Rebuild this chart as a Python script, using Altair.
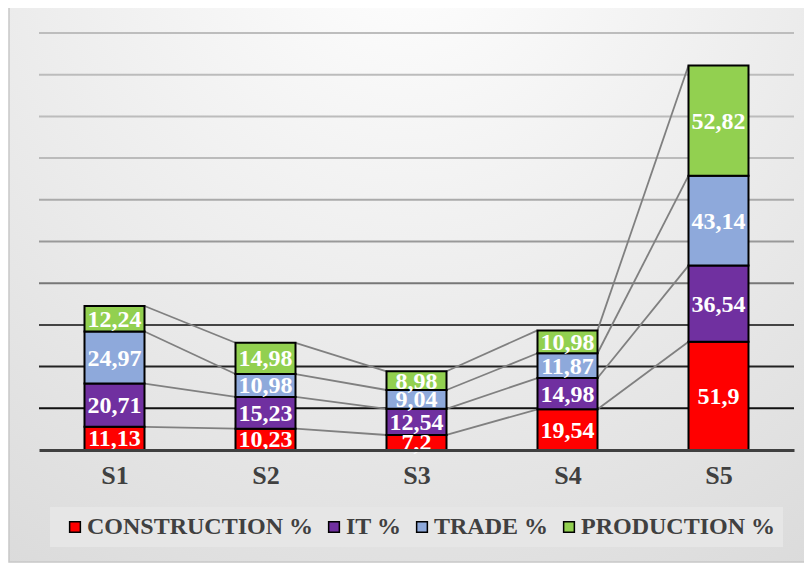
import json
import altair as alt
import pandas as pd

categories = ["S1", "S2", "S3", "S4", "S5"]
series = ["CONSTRUCTION %", "IT %", "TRADE %", "PRODUCTION %"]
construction = [11.13, 10.23, 7.2, 19.54, 51.9]
it = [20.71, 15.23, 12.54, 14.98, 36.54]
trade = [24.97, 10.98, 9.04, 11.87, 43.14]
production = [12.24, 14.98, 8.98, 10.98, 52.82]
colors = ["#FF0000", "#7030A0", "#8EA9DB", "#92D050"]
grid_ticks = list(range(20, 201, 20))

values = [construction, it, trade, production]
rows = []
for i, c in enumerate(categories):
    cum = 0.0
    for k, s in enumerate(series):
        v = values[k][i]
        rows.append(dict(idx=i, cat=c, series=s, k=k, value=v, y0=cum, y1=cum + v,
                         mid=cum + v / 2, label=str(v).replace(".", ",")))
        cum += v
df = pd.DataFrame(rows)

links = []
for k, s in enumerate(series):
    for i in range(len(categories) - 1):
        a = df[(df.k == k) & (df.idx == i)].y1.iloc[0]
        b = df[(df.k == k) & (df.idx == i + 1)].y1.iloc[0]
        links.append(dict(series=s, x=i, x2=i + 1, y=a, y2=b))
links = pd.DataFrame(links)

W, H = 755, 417
FONT = "'Liberation Serif', 'Times New Roman', Tinos, serif"
xs = alt.Scale(domain=[-0.5, len(categories) - 0.5], nice=False, zero=False, padding=0)
ys = alt.Scale(domain=[0, 200], nice=False, zero=True)
xaxis = alt.Axis(values=list(range(len(categories))),
                 labelExpr=json.dumps(categories) + "[datum.value]",
                 grid=False, ticks=False, domainColor="#404040", domainWidth=3,
                 labelFont=FONT, labelFontSize=26, labelFontWeight="bold",
                 labelColor="#404040", labelPadding=12, title=None, zindex=1)
X = alt.X("idx:Q", scale=xs, axis=xaxis)

bg = alt.Chart(pd.DataFrame({"a": [0]})).mark_rect(
    fill={"gradient": "radial",
          "stops": [{"offset": 0, "color": "#ffffff"}, {"offset": 1, "color": "#d9d9d9"}],
          "x1": 0.5, "y1": 0.05, "x2": 0.5, "y2": 0.05, "r1": 0, "r2": 1.0},
    stroke="#c8c8c8", strokeWidth=1.5
).encode(x=alt.value(-30), x2=alt.value(766), y=alt.value(-28), y2=alt.value(529))

legbox = alt.Chart(pd.DataFrame({"a": [0]})).mark_rect(fill="#e6e6e6").encode(
    x=alt.value(11), x2=alt.value(744), y=alt.value(474), y2=alt.value(514))

grid = alt.Chart(pd.DataFrame({"v": grid_ticks})).mark_rule(strokeWidth=2).encode(
    y=alt.Y("v:Q", scale=ys, axis=None),
    stroke=alt.Stroke("v:Q", scale=alt.Scale(
        domain=[20, 40, 60, 80, 100, 120, 140, 200],
        range=["#111111", "#222222", "#444444", "#777777", "#999999", "#aaaaaa", "#bbbbbb", "#bdbdbd"]),
        legend=None))

lines = alt.Chart(links).mark_rule(color="#808080", strokeWidth=1.8, xOffset=30, x2Offset=-30).encode(
    x=alt.X("x:Q", scale=xs, axis=xaxis),
    x2="x2:Q",
    y=alt.Y("y:Q", scale=ys, axis=None),
    y2="y2:Q")

bars = alt.Chart(df).mark_bar(size=60, stroke="black", strokeWidth=2).encode(
    x=X,
    y=alt.Y("y1:Q", scale=ys, axis=None),
    y2="y0:Q",
    color=alt.Color("series:N", scale=alt.Scale(domain=series, range=colors),
                    legend=alt.Legend(orient="none", legendX=24, legendY=482,
                                      direction="horizontal", columns=4, title=None,
                                      labelFont=FONT, labelFontSize=24, labelFontWeight="bold",
                                      labelColor="#404040", symbolType="square", symbolSize=115,
                                      symbolStrokeColor="black", symbolStrokeWidth=1.5,
                                      labelOffset=0, columnPadding=8, padding=0,
                                      labelLimit=400)))

text = alt.Chart(df).mark_text(color="white", font=FONT, fontSize=24, fontWeight="bold",
                               baseline="middle", dy=1).encode(
    x=X,
    y=alt.Y("mid:Q", scale=ys, axis=None),
    text="label:N")

chart = alt.layer(bg, legbox, grid, lines, bars, text).properties(
    width=W, height=H,
    padding={"left": 31, "top": 25, "right": 10, "bottom": 113},
    autosize=alt.AutoSizeParams(type="none"),
    background="white",
).resolve_scale(color="independent").configure_view(stroke=None)

chart.save("out.html", embed_options={"renderer": "svg", "actions": False})
